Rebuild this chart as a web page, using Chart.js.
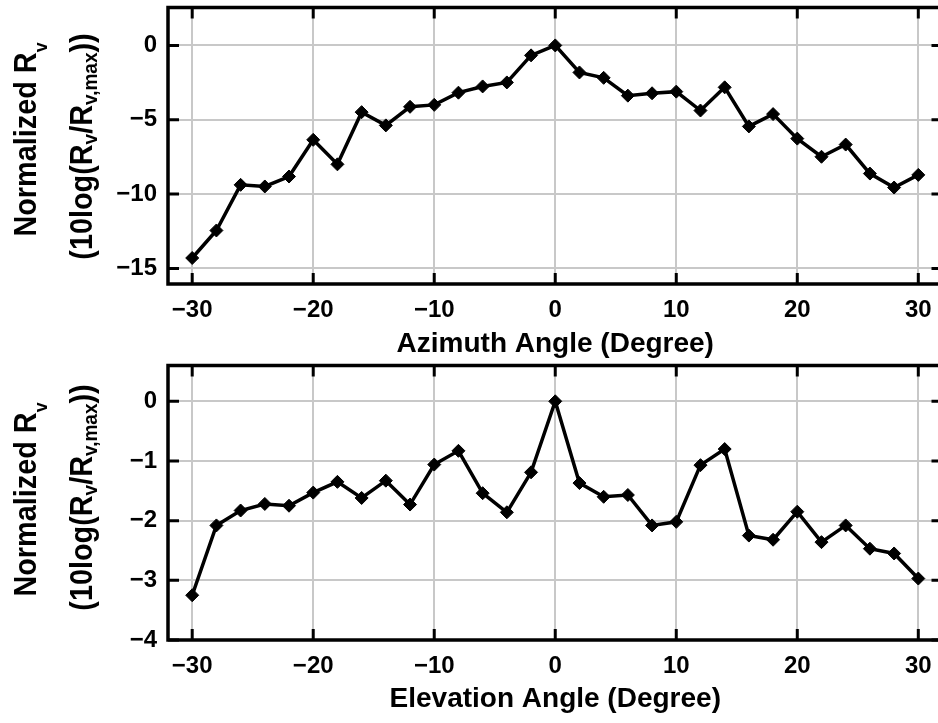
<!DOCTYPE html>
<html>
<head>
<meta charset="UTF-8">
<title>Normalized Rv vs azimuth / elevation angle</title>
<script src="https://cdn.jsdelivr.net/npm/chart.js@4"></script>
<style>
  html, body { margin: 0; padding: 0; background: #fff; overflow: hidden; }
  #wrap { position: relative; width: 938px; height: 723px; overflow: hidden; }
  canvas { position: absolute; left: 0; }
</style>
</head>
<body>
<div id="wrap">
  <!-- canvases are wider than the picture: the right edge of the plot box is cut off, as in the original -->
  <canvas id="azimuth" width="950" height="358" style="top:0"></canvas>
  <canvas id="elevation" width="950" height="365" style="top:358px"></canvas>
</div>
<script>
// angle steps shared by both panels (degrees)
const angles = [-30, -28, -26, -24, -22, -20, -18, -16, -14, -12, -10, -8, -6, -4, -2, 0,
                2, 4, 6, 8, 10, 12, 14, 16, 18, 20, 22, 24, 26, 28, 30];

const azimuthRv = [-14.3, -12.45, -9.38, -9.49, -8.82, -6.35, -8.0, -4.49, -5.38, -4.13, -4.0,
                   -3.18, -2.76, -2.49, -0.67, 0, -1.82, -2.18, -3.38, -3.22, -3.11, -4.38,
                   -2.82, -5.45, -4.62, -6.27, -7.49, -6.67, -8.62, -9.56, -8.71];
const elevationRv = [-3.25, -2.08, -1.83, -1.72, -1.75, -1.53, -1.35, -1.62, -1.33, -1.73, -1.06,
                     -0.83, -1.54, -1.86, -1.19, 0, -1.37, -1.6, -1.57, -2.08, -2.02, -1.07,
                     -0.8, -2.25, -2.32, -1.85, -2.36, -2.08, -2.47, -2.55, -2.97];

const xTicks = [-30, -20, -10, 0, 10, 20, 30];
const azimuthYTicks = [0, -5, -10, -15];
const elevationYTicks = [0, -1, -2, -3, -4];

const FONT = '"Liberation Sans", Arial, sans-serif';
const fmt = v => (v < 0 ? '\u2212' + Math.abs(v) : String(v));

// draw a line of text with subscripts, rotated to read bottom-to-top
function drawRich(ctx, parts, baseY, size, squeeze) {
  let total = 0;
  parts.forEach(p => {
    ctx.font = 'bold ' + (p.sub ? size * p.sub : size) + 'px ' + FONT;
    p.w = ctx.measureText(p.t).width;
    total += p.w;
  });
  let x = -total / 2;
  ctx.save();
  ctx.scale(squeeze, 1);
  parts.forEach(p => {
    ctx.font = 'bold ' + (p.sub ? size * p.sub : size) + 'px ' + FONT;
    ctx.fillText(p.t, x, baseY + (p.sub ? p.dy : 0));
    x += p.w;
  });
  ctx.restore();
}

const framePlugin = {
  id: 'frame',
  afterDatasetsDraw(chart, args, opts) {
    const { ctx, chartArea: a, scales } = chart;
    ctx.save();
    ctx.strokeStyle = '#000';
    ctx.lineWidth = 3;
    ctx.beginPath();
    scales.x.ticks.forEach(t => {
      const px = scales.x.getPixelForValue(t.value);
      ctx.moveTo(px, a.top); ctx.lineTo(px, a.top + 11);
      ctx.moveTo(px, a.bottom); ctx.lineTo(px, a.bottom - 11);
    });
    scales.y.ticks.forEach(t => {
      const py = scales.y.getPixelForValue(t.value);
      ctx.moveTo(a.left, py); ctx.lineTo(a.left + 11, py);
      ctx.moveTo(a.right, py); ctx.lineTo(a.right - 11, py);
    });
    ctx.stroke();
    ctx.lineWidth = 3.5;
    ctx.strokeRect(a.left, a.top, a.right - a.left, a.bottom - a.top);
    ctx.restore();
  },
  afterDraw(chart, args, opts) {
    const ctx = chart.ctx;
    ctx.save();
    ctx.fillStyle = '#000';
    ctx.textBaseline = 'alphabetic';
    ctx.textAlign = 'left';
    ctx.translate(0, opts.line1Center);
    ctx.rotate(-Math.PI / 2);
    drawRich(ctx, [{ t: 'Normalized R' }, { t: 'v', sub: 0.62, dy: 11 }], 36, 31, 0.93);
    ctx.restore();
    ctx.save();
    ctx.fillStyle = '#000';
    ctx.textBaseline = 'alphabetic';
    ctx.textAlign = 'left';
    ctx.translate(0, opts.line2Center);
    ctx.rotate(-Math.PI / 2);
    drawRich(ctx, [
      { t: '(10log(R' }, { t: 'v', sub: 0.66, dy: 5 },
      { t: '/R' }, { t: 'v,max', sub: 0.66, dy: 5 },
      { t: '))' }
    ], 92, 31, 0.93);
    ctx.restore();
  }
};

// drop the label overflow padding Chart.js adds, so the plot box sits where it should
function noPad(s) {
  s.paddingTop = 0; s.paddingBottom = 0; s.paddingLeft = 0; s.paddingRight = 0;
}

function makeChart(id, values, yTicks, yMin, yMax, xTitle, cfg) {
  const grid = { color: '#c8c8c8', lineWidth: 2, drawTicks: false };
  const tickFont = { family: FONT, size: 24, weight: 'bold' };
  return new Chart(document.getElementById(id), {
    type: 'line',
    data: {
      datasets: [{
        data: angles.map((a, i) => ({ x: a, y: values[i] })),
        borderColor: '#000',
        borderWidth: 3.5,
        pointStyle: 'rectRot',
        pointRadius: 6.5,
        pointBackgroundColor: '#000',
        pointBorderColor: '#000',
        pointBorderWidth: 1,
        tension: 0
      }]
    },
    options: {
      responsive: false,
      animation: false,
      devicePixelRatio: 1,
      layout: { padding: { top: cfg.padTop, right: 0, left: 0, bottom: 0 } },
      plugins: {
        legend: { display: false },
        tooltip: { enabled: false },
        frame: { line1Center: cfg.line1Center, line2Center: cfg.line2Center }
      },
      scales: {
        x: {
          type: 'linear',
          min: -32, max: 32,
          afterBuildTicks: s => { s.ticks = xTicks.map(v => ({ value: v })); },
          afterFit: s => { s.height = cfg.axisH; noPad(s); },
          grid: grid,
          border: { display: false },
          ticks: { font: tickFont, color: '#000', padding: 12, maxRotation: 0, autoSkip: false, callback: fmt },
          title: {
            display: true, text: xTitle, color: '#000',
            font: { family: FONT, size: 28, weight: 'bold', lineHeight: 1 },
            padding: { top: 0, bottom: cfg.titlePad }
          }
        },
        y: {
          type: 'linear',
          min: yMin, max: yMax,
          afterBuildTicks: s => { s.ticks = yTicks.map(v => ({ value: v })); },
          afterFit: s => { s.width = 168; noPad(s); },
          grid: grid,
          border: { display: false },
          ticks: { font: tickFont, color: '#000', padding: 11, callback: fmt }
        }
      }
    },
    plugins: [framePlugin]
  });
}

makeChart('azimuth', azimuthRv, azimuthYTicks, -16.05, 2.55, 'Azimuth Angle (Degree)',
  { padTop: 5, axisH: 74, titlePad: 0, line1Center: 139.5, line2Center: 146.5 });
makeChart('elevation', elevationRv, elevationYTicks, -4, 0.6, 'Elevation Angle (Degree)',
  { padTop: 5.3, axisH: 83, titlePad: 10, line1Center: 141.5, line2Center: 139.5 });
</script>
</body>
</html>
